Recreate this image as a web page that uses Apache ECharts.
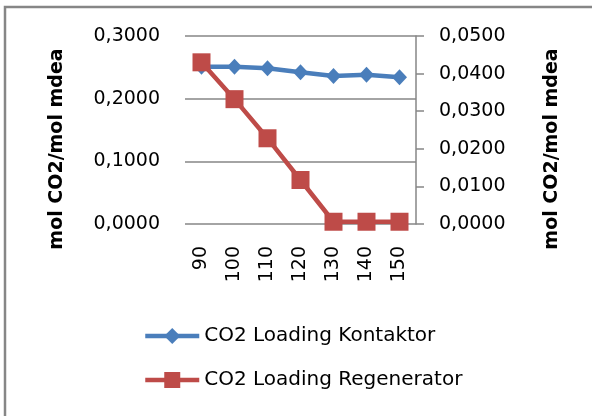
<!DOCTYPE html>
<html>
<head>
<meta charset="utf-8">
<script src="https://cdn.jsdelivr.net/npm/echarts@6/dist/echarts.min.js"></script>
<style>
  html, body { margin: 0; padding: 0; background: #fff; }
  #chart { width: 592px; height: 416px; }
</style>
</head>
<body>
<div id="chart"></div>
<script>
// temperatur (x), loading contactor (kiri), loading regenerator (kanan)
const categories = ['90', '100', '110', '120', '130', '140', '150'];
const kontaktor = [0.251, 0.251, 0.2485, 0.242, 0.236, 0.238, 0.234];
const regenerator = [0.0430, 0.0332, 0.0228, 0.0117, 0.0006, 0.0006, 0.0006];
const axisName = 'mol CO2/mol mdea';
const seriesNames = ['CO2 Loading Kontaktor', 'CO2 Loading Regenerator'];

const font = 'DejaVu Sans';
const grey = '#868686';
const fmt = v => v.toFixed(4).replace('.', ',');

const chart = echarts.init(document.getElementById('chart'));

chart.setOption({
  animation: false,
  textStyle: { fontFamily: font },
  grid: { left: 185, right: 176, top: 36, bottom: 192, containLabel: false },
  xAxis: {
    type: 'category',
    data: categories,
    boundaryGap: true,
    axisLine: { show: false },
    axisTick: { show: false },
    axisLabel: { rotate: 90, margin: 22, fontSize: 19, color: '#000', fontFamily: font }
  },
  yAxis: [
    {
      type: 'value', min: 0, max: 0.3, interval: 0.1,
      axisLine: { show: false },
      axisTick: { show: false },
      splitLine: { lineStyle: { color: grey, width: 1.5 } },
      axisLabel: { formatter: fmt, margin: 25, fontSize: 19, color: '#000', fontFamily: font }
    },
    {
      type: 'value', min: 0, max: 0.05, interval: 0.01, position: 'right',
      axisLine: { show: true, lineStyle: { color: grey, width: 1.5 } },
      axisTick: { show: true, inside: false, length: 8, lineStyle: { color: grey, width: 1.5 } },
      splitLine: { show: false },
      axisLabel: { formatter: fmt, margin: 23, fontSize: 19, color: '#000', fontFamily: font }
    }
  ],
  legend: {
    orient: 'vertical',
    left: 138,
    top: 321,
    itemWidth: 54,
    itemHeight: 20,
    itemGap: 24,
    lineStyle: { width: 4.5 },
    textStyle: { fontSize: 20, color: '#000', fontFamily: font },
    data: seriesNames
  },
  series: [
    {
      name: seriesNames[0],
      type: 'line',
      yAxisIndex: 0,
      data: kontaktor,
      symbol: 'diamond',
      symbolSize: [15, 16],
      itemStyle: { color: '#4A7EBB' },
      lineStyle: { color: '#4A7EBB', width: 4.5 }
    },
    {
      name: seriesNames[1],
      type: 'line',
      yAxisIndex: 1,
      data: regenerator,
      symbol: 'rect',
      symbolSize: 18,
      itemStyle: { color: '#BE4B48' },
      lineStyle: { color: '#BE4B48', width: 4.5 }
    }
  ],
  graphic: [
    {
      type: 'rect',
      shape: { x: 5, y: 7, width: 620, height: 430 },
      style: { fill: 'none', stroke: grey, lineWidth: 2.5 },
      silent: true
    },
    {
      type: 'text',
      x: 57, y: 149, rotation: Math.PI / 2,
      style: { text: axisName, font: 'bold 19px "DejaVu Sans"', fill: '#000', align: 'center', verticalAlign: 'middle' }
    },
    {
      type: 'text',
      x: 552, y: 149, rotation: Math.PI / 2,
      style: { text: axisName, font: 'bold 19px "DejaVu Sans"', fill: '#000', align: 'center', verticalAlign: 'middle' }
    }
  ]
});
</script>
</body>
</html>
